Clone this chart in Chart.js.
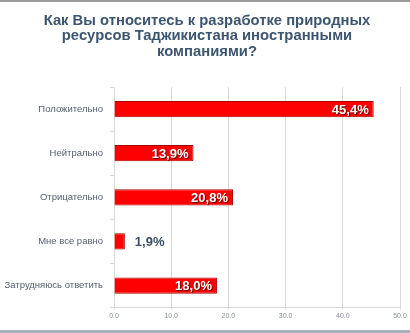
<!DOCTYPE html>
<html>
<head>
<meta charset="utf-8">
<script src="https://cdn.jsdelivr.net/npm/chart.js@4/dist/chart.umd.min.js"></script>
<style>
  html, body { margin: 0; padding: 0; background: #fff; }
  #wrap {
    position: relative;
    width: 410px;
    height: 333px;
    box-sizing: border-box;
    border-top: 2px solid #9a9a9a;
    border-bottom: 3px solid #a9b3bb;
  }
</style>
</head>
<body>
<div id="wrap"><canvas id="chart"></canvas></div>
<script>
const titleLines = [
  'Как Вы относитесь к разработке природных',
  'ресурсов Таджикистана иностранными',
  'компаниями?'
];
const categories = ['Положительно', 'Нейтрально', 'Отрицательно', 'Мне все равно', 'Затрудняюсь ответить'];
const values = [45.4, 13.9, 20.8, 1.9, 18.0];
const valueLabels = ['45,4%', '13,9%', '20,8%', '1,9%', '18,0%'];
const xMax = 50;
const xStep = 10;

// title is drawn by hand so it can sit a bit right of the canvas centre, like the slide
const slideTitle = {
  id: 'slideTitle',
  afterDraw(chart) {
    const { ctx } = chart;
    ctx.save();
    ctx.font = 'bold 14.8px "Liberation Sans", Arial, sans-serif';
    ctx.fillStyle = '#3d5670';
    ctx.textAlign = 'center';
    ctx.textBaseline = 'middle';
    titleLines.forEach((line, i) => {
      ctx.fillText(line, 207, 18.5 + i * 15.5);
    });
    ctx.restore();
  }
};

// draws the percent labels, white inside the bar or dark beside a short one
const barLabels = {
  id: 'barLabels',
  afterDatasetsDraw(chart) {
    const { ctx } = chart;
    const meta = chart.getDatasetMeta(0);
    ctx.save();
    ctx.font = 'bold 13px "Liberation Sans", Arial, sans-serif';
    ctx.textBaseline = 'middle';
    meta.data.forEach((bar, i) => {
      const text = valueLabels[i];
      const w = bar.x - bar.base;
      if (w > 45) {
        ctx.textAlign = 'right';
        ctx.shadowColor = 'rgba(80,0,0,0.9)';
        ctx.shadowOffsetX = 1;
        ctx.shadowOffsetY = 1;
        ctx.shadowBlur = 1;
        ctx.fillStyle = '#ffffff';
        ctx.fillText(text, bar.x - 5, bar.y + 1);
      } else {
        ctx.textAlign = 'left';
        ctx.shadowColor = 'transparent';
        ctx.fillStyle = '#3c4f66';
        ctx.fillText(text, bar.x + 10, bar.y + 1);
      }
    });
    ctx.restore();
  }
};

const ctx = document.getElementById('chart');

new Chart(ctx, {
  type: 'bar',
  data: {
    labels: categories,
    datasets: [{
      data: values,
      backgroundColor: '#ff0000',
      borderColor: '#a80000',
      borderWidth: 1,
      categoryPercentage: 1.0,
      barPercentage: 0.37
    }]
  },
  options: {
    indexAxis: 'y',
    responsive: true,
    maintainAspectRatio: false,
    animation: false,
    devicePixelRatio: 1,
    layout: {
      padding: { left: 0, right: 10, top: 85, bottom: 8 }
    },
    plugins: {
      legend: { display: false },
      tooltip: { enabled: false },
      title: { display: false }
    },
    scales: {
      x: {
        min: 0,
        max: xMax,
        ticks: {
          stepSize: xStep,
          color: '#8a8f96',
          font: { family: '"Liberation Sans", Arial, sans-serif', size: 7 },
          padding: 2,
          callback: (v) => Number(v).toFixed(1)
        },
        grid: { color: '#d9d9d9', tickLength: 2 },
        border: { color: '#d9d9d9' }
      },
      y: {
        afterFit: (scale) => { scale.width = 114; },
        ticks: {
          color: '#55606e',
          font: { family: '"Liberation Sans", Arial, sans-serif', size: 9.5 },
          padding: 7
        },
        grid: { offset: true, drawOnChartArea: false, color: '#d9d9d9', tickLength: 4 },
        border: { color: '#d9d9d9' }
      }
    }
  },
  plugins: [barLabels, slideTitle]
});
</script>
</body>
</html>
